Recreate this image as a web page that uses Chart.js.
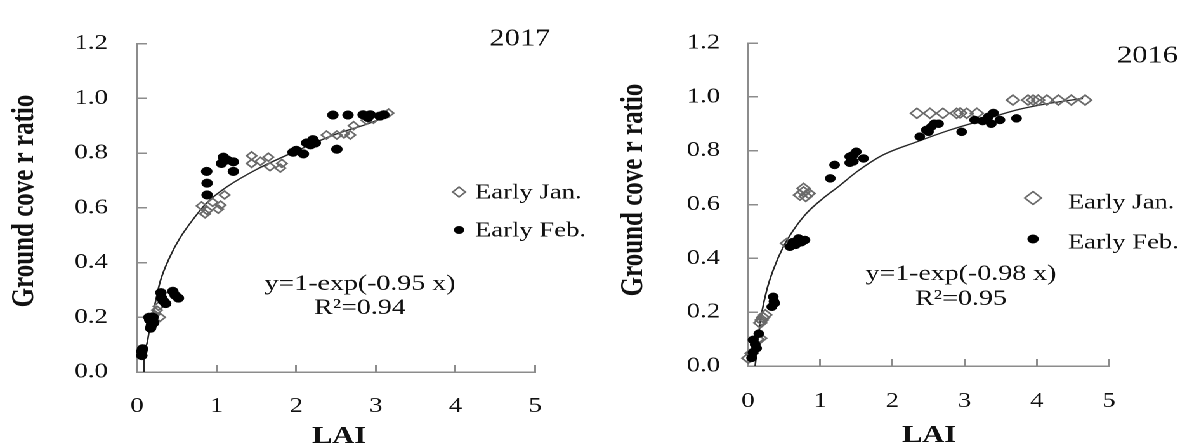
<!DOCTYPE html>
<html>
<head>
<meta charset="utf-8">
<script src="https://cdn.jsdelivr.net/npm/chart.js@4.4.1/dist/chart.umd.min.js"></script>
<style>
  html, body { margin: 0; padding: 0; background: #ffffff; overflow: hidden; }
  #wrap { position: absolute; left: 0; top: 0; width: 930px; height: 446px;
          transform: scaleX(1.268817); transform-origin: 0 0; }
  .pane { position: absolute; top: 0; width: 465px; height: 446px; }
</style>
</head>
<body>
<div id="wrap">
  <div class="pane" style="left:0"><canvas id="c2017"></canvas></div>
  <div class="pane" style="left:465px"><canvas id="c2016"></canvas></div>
</div>
<script>
// ---------------- data ----------------
const xTickValues = [0, 1, 2, 3, 4, 5];
const yTickValues = [0, 0.2, 0.4, 0.6, 0.8, 1.0, 1.2];

// 2017 panel
const jan2017LAI = [0.25, 0.29, 0.22, 0.27, 0.81, 0.855, 0.88, 0.95, 1.02, 1.05, 1.1, 1.44, 1.44, 1.55, 1.65, 1.67, 1.8, 1.82, 2.38, 2.51, 2.6, 2.68, 2.72, 2.88, 2.97, 3.16];
const jan2017GCR = [0.226, 0.2, 0.21, 0.24, 0.607, 0.578, 0.59, 0.62, 0.595, 0.61, 0.647, 0.79, 0.762, 0.77, 0.785, 0.75, 0.745, 0.762, 0.866, 0.866, 0.87, 0.866, 0.9, 0.92, 0.924, 0.946];
const feb2017LAI = [0.06, 0.07, 0.06, 0.16, 0.18, 0.2, 0.17, 0.21, 0.15, 0.31, 0.33, 0.3, 0.36, 0.45, 0.52, 0.48, 0.875, 0.88, 0.88, 1.085, 1.06, 1.21, 1.21, 1.13, 1.96, 2.09, 2.13, 2.21, 2.24, 2.0, 2.18, 2.51, 2.46, 2.65, 2.84, 2.93, 3.05, 2.9, 3.1];
const feb2017GCR = [0.06, 0.085, 0.075, 0.19, 0.17, 0.2, 0.16, 0.18, 0.2, 0.27, 0.26, 0.29, 0.25, 0.295, 0.27, 0.28, 0.733, 0.69, 0.647, 0.785, 0.762, 0.768, 0.733, 0.775, 0.803, 0.797, 0.837, 0.849, 0.837, 0.81, 0.83, 0.814, 0.939, 0.939, 0.94, 0.94, 0.935, 0.93, 0.94];
const fit2017LAI = [0.088, 0.09, 0.12, 0.163, 0.226, 0.29, 0.415, 0.54, 0.71, 0.875, 1.126, 1.5, 2.05, 2.47, 2.89, 3.18];
const fit2017GCR = [0.0, 0.05, 0.1, 0.168, 0.249, 0.33, 0.422, 0.49, 0.56, 0.618, 0.676, 0.74, 0.814, 0.866, 0.906, 0.938];

// 2016 panel
const jan2016LAI = [0.005, 0.05, 0.17, 0.13, 0.17, 0.19, 0.24, 0.21, 0.54, 0.72, 0.77, 0.84, 0.77, 0.8, 2.34, 2.52, 2.7, 2.89, 2.94, 3.03, 3.17, 3.67, 3.88, 3.95, 4.02, 4.14, 4.3, 4.48, 4.67];
const jan2016GCR = [0.029, 0.047, 0.103, 0.1, 0.16, 0.171, 0.19, 0.18, 0.456, 0.635, 0.647, 0.641, 0.66, 0.63, 0.939, 0.939, 0.939, 0.939, 0.94, 0.939, 0.939, 0.988, 0.988, 0.988, 0.988, 0.988, 0.988, 0.988, 0.988];
const feb2016LAI = [0.05, 0.07, 0.12, 0.07, 0.1, 0.15, 0.35, 0.37, 0.33, 0.36, 0.58, 0.62, 0.7, 0.79, 0.66, 0.74, 1.14, 1.2, 1.41, 1.41, 1.5, 1.46, 1.6, 1.46, 2.38, 2.47, 2.54, 2.64, 2.5, 2.58, 2.96, 3.14, 3.33, 3.4, 3.37, 3.49, 3.72, 3.25];
const feb2016GCR = [0.03, 0.05, 0.066, 0.097, 0.08, 0.12, 0.257, 0.233, 0.22, 0.24, 0.443, 0.46, 0.474, 0.468, 0.45, 0.46, 0.697, 0.747, 0.778, 0.755, 0.796, 0.784, 0.771, 0.76, 0.852, 0.877, 0.889, 0.9, 0.87, 0.9, 0.87, 0.914, 0.926, 0.94, 0.9, 0.914, 0.92, 0.91];
const fit2016LAI = [0.1, 0.143, 0.19, 0.26, 0.35, 0.49, 0.63, 0.81, 1.04, 1.27, 1.5, 1.87, 2.34, 2.8, 3.26, 3.72, 4.18, 4.64];
const fit2016GCR = [0.0, 0.109, 0.196, 0.282, 0.357, 0.443, 0.505, 0.567, 0.623, 0.67, 0.72, 0.784, 0.833, 0.877, 0.914, 0.951, 0.976, 0.994];

// text
const yTitle = 'Ground cove r ratio';
const xTitle = 'LAI';
const legendLabels = ['Early Jan.', 'Early Feb.'];
// ------------------------------------------------------------------------

const FONT = "'Liberation Serif', 'Times New Roman', serif";
const AXIS = '#8c8c8c';
const INK = '#111111';

function zip(xs, ys) { return xs.map((x, i) => ({ x: x, y: ys[i] })); }

function textPlugin(t) {
  return {
    id: 'annot_' + t.year,
    afterDraw(chart) {
      const ctx = chart.ctx;
      ctx.save();
      ctx.fillStyle = INK;
      // y title
      ctx.save();
      ctx.translate(t.yTitleX, t.yTitleY);
      ctx.rotate(-Math.PI / 2);
      ctx.font = 'bold 25px ' + FONT;
      ctx.textAlign = 'center';
      ctx.textBaseline = 'middle';
      ctx.fillText(yTitle, 0, 0);
      ctx.restore();
      // x title
      ctx.font = 'bold 24px ' + FONT;
      ctx.textAlign = 'center';
      ctx.textBaseline = 'middle';
      ctx.fillText(xTitle, t.xTitleX, t.xTitleY);
      // year
      ctx.font = '24px ' + FONT;
      ctx.textAlign = t.yearAlign;
      ctx.fillText(t.year, t.yearX, t.yearY);
      // legend markers
      ctx.strokeStyle = '#6a6a6a'; ctx.lineWidth = 1.5;
      ctx.beginPath();
      ctx.moveTo(t.legMarkX, t.legJanY - t.legDiamondR);
      ctx.lineTo(t.legMarkX + t.legDiamondR, t.legJanY);
      ctx.lineTo(t.legMarkX, t.legJanY + t.legDiamondR);
      ctx.lineTo(t.legMarkX - t.legDiamondR, t.legJanY);
      ctx.closePath();
      ctx.stroke();
      ctx.fillStyle = '#000';
      ctx.beginPath();
      ctx.arc(t.legMarkX, t.legFebY, t.legDotR, 0, Math.PI * 2);
      ctx.fill();
      // legend text
      ctx.fillStyle = INK;
      ctx.font = '21px ' + FONT;
      ctx.textAlign = 'left';
      ctx.fillText(legendLabels[0], t.legTextX, t.legJanTextY);
      ctx.fillText(legendLabels[1], t.legTextX, t.legFebTextY);
      // equation
      ctx.font = '22px ' + FONT;
      ctx.textAlign = 'center';
      ctx.fillText(t.eq, t.eqX, t.eqY);
      ctx.fillText(t.r2, t.eqX, t.r2Y);
      ctx.restore();
    }
  };
}

function makeChart(id, c) {
  new Chart(document.getElementById(id), {
    type: 'scatter',
    data: {
      datasets: [
        { type: 'line', label: 'fit', data: zip(c.fitX, c.fitY), borderColor: '#262626', borderWidth: 1.3,
          pointRadius: 0, fill: false, cubicInterpolationMode: 'monotone', order: 3 },
        { label: legendLabels[0], data: zip(c.janX, c.janY), pointStyle: 'rectRot', pointRadius: c.dR,
          borderColor: '#6a6a6a', backgroundColor: 'rgba(0,0,0,0)', borderWidth: 1.5, clip: false, order: 2 },
        { label: legendLabels[1], data: zip(c.febX, c.febY), pointStyle: 'circle', pointRadius: c.cR,
          borderColor: '#000', backgroundColor: '#000', borderWidth: 0.5, clip: false, order: 1 }
      ]
    },
    options: {
      responsive: true, maintainAspectRatio: false, animation: false, devicePixelRatio: 2,
      layout: { padding: { left: 0, right: c.padR, top: c.top, bottom: 0 } },
      plugins: { legend: { display: false }, tooltip: { enabled: false } },
      scales: {
        x: {
          type: 'linear', min: 0, max: 5,
          afterBuildTicks: s => { s.ticks = xTickValues.map(v => ({ value: v })); },
          afterFit: s => { s.height = c.xH; },
          ticks: { font: { family: FONT, size: 21 }, color: INK, padding: c.xPad, callback: v => String(v), maxRotation: 0 },
          grid: { drawOnChartArea: false, drawTicks: true, tickLength: -7, color: AXIS, lineWidth: 1.5 },
          border: { display: true, color: AXIS, width: 1.5 }
        },
        y: {
          type: 'linear', min: 0, max: 1.2,
          afterBuildTicks: s => { s.ticks = yTickValues.map(v => ({ value: v })); },
          afterFit: s => { s.width = c.yW; },
          ticks: { font: { family: FONT, size: 21 }, color: INK, padding: c.yPad, callback: v => Number(v).toFixed(1) },
          grid: { drawOnChartArea: false, drawTicks: true, tickLength: -8, color: AXIS, lineWidth: 1.5 },
          border: { display: true, color: AXIS, width: 1.5 }
        }
      }
    },
    plugins: [textPlugin(c.text)]
  });
}

makeChart('c2017', {
  fitX: fit2017LAI, fitY: fit2017GCR, janX: jan2017LAI, janY: jan2017GCR, febX: feb2017LAI, febY: feb2017GCR,
  dR: 4, cR: 4.3, padR: 43.3, top: 25, xH: 74, yW: 108, xPad: 29, yPad: 31,
  text: {
    year: '2017', yearX: 409.8, yearY: 39, yearAlign: 'center',
    yTitleX: 19.4, yTitleY: 201, xTitleX: 267.2, xTitleY: 437,
    legMarkX: 361.8, legJanY: 192, legFebY: 230, legDiamondR: 5, legDotR: 4,
    legTextX: 374.4, legJanTextY: 193, legFebTextY: 231,
    eq: 'y=1-exp(-0.95 x)', r2: 'R²=0.94', eqX: 283.7, eqY: 284, r2Y: 308
  }
});

makeChart('c2016', {
  fitX: fit2016LAI, fitY: fit2016GCR, janX: jan2016LAI, janY: jan2016GCR, febX: feb2016LAI, febY: feb2016GCR,
  dR: 5, cR: 4, padR: 56, top: 43, xH: 80, yW: 124.5, xPad: 30, yPad: 30,
  text: {
    year: '2016', yearX: 415.4, yearY: 56, yearAlign: 'left',
    yTitleX: 34.3, yTitleY: 190, xTitleX: 267.2, xTitleY: 436,
    legMarkX: 349.2, legJanY: 198, legFebY: 239, legDiamondR: 6.5, legDotR: 4.5,
    legTextX: 376.7, legJanTextY: 203, legFebTextY: 243,
    eq: 'y=1-exp(-0.98 x)', r2: 'R²=0.95', eqX: 292.4, eqY: 274, r2Y: 299
  }
});
</script>
</body>
</html>
